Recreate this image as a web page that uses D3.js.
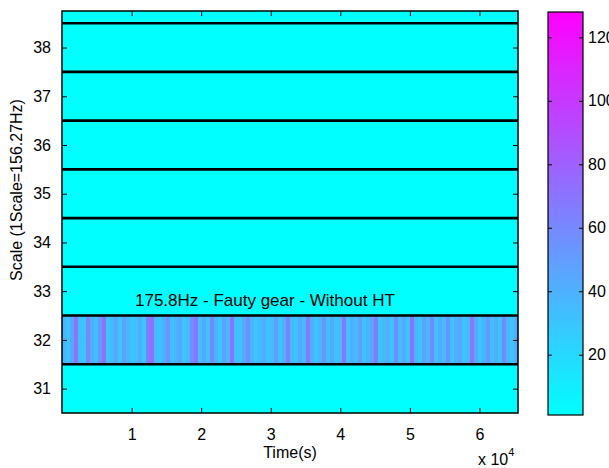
<!DOCTYPE html>
<html>
<head>
<meta charset="utf-8">
<script src="https://cdn.jsdelivr.net/npm/d3@7"></script>
<style>
  body { margin: 0; background: #fff; }
  text { font-family: "Liberation Sans", Arial, sans-serif; font-size: 16px; fill: #000; }
</style>
</head>
<body>
<svg></svg>
<script>
// scale rows shown on the y axis (row 39 is only partly visible at the top)
const scales = [31, 32, 33, 34, 35, 36, 37, 38, 39]
const quietLevel = 1 // every row except 32 sits at the bottom of the colour map

// row 32 coefficients, read column by column across the time axis
const row32 = [
  38, 30, 45, 70, 34, 28, 62, 40, 33, 52, 72, 30, 36, 44, 30, 48, 38, 30, 34, 42,
  28, 66, 72, 36, 30, 40, 55, 32, 38, 46, 30, 36, 58, 70, 32, 44, 30, 62, 38, 30,
  48, 36, 72, 34, 30, 44, 56, 38, 30, 36, 42, 30, 34, 50, 30, 40, 64, 36, 30, 46,
  33, 68, 40, 30, 38, 54, 32, 44, 30, 36, 70, 30, 42, 34, 50, 30, 38, 46, 66, 30,
  36, 40, 30, 58, 34, 44, 30, 72, 38, 30, 48, 36, 62, 30, 42, 34, 56, 30, 40, 46,
  30, 36, 68, 44, 30, 38, 52, 34, 40, 30, 60, 36, 30, 44
]
const nSamples = 65536

const xTicks = [1, 2, 3, 4, 5, 6]
const yTicks = [31, 32, 33, 34, 35, 36, 37, 38]
const cbTicks = [20, 40, 60, 80, 100, 120]
const cbDomain = [1, 128]

const svg = d3.select("svg")
	.attr("width", 609)
	.attr("height", 468)

const plot = { left: 62, right: 518, top: 11, bottom: 413 }
const bar = { left: 548, right: 583, top: 12, bottom: 415 }

const x = d3.scaleLinear()
	.domain([0, nSamples])
	.range([plot.left, plot.right])

const y = d3.scaleLinear()
	.domain([30.5, 38.75])
	.range([plot.bottom, plot.top])

// MATLAB "cool": cyan -> magenta
const colorScale = d3.scaleLinear()
	.domain(cbDomain)
	.range(["#00ffff", "#ff00ff"])
	.clamp(true)

svg.append("clipPath")
	.attr("id", "clip")
	.append("rect")
	.attr("x", plot.left)
	.attr("y", plot.top)
	.attr("width", plot.right - plot.left)
	.attr("height", plot.bottom - plot.top)

const cells = svg.append("g").attr("clip-path", "url(#clip)")

// flat rows
cells.selectAll("rect.row")
	.data(scales.filter(s => s !== 32))
	.enter()
	.append("rect")
	.attr("class", "row")
	.attr("x", x(0))
	.attr("width", x(nSamples) - x(0))
	.attr("y", d => y(d + 0.5))
	.attr("height", d => y(d - 0.5) - y(d + 0.5))
	.style("fill", colorScale(quietLevel))

// row 32 columns
const colW = nSamples / row32.length
cells.selectAll("rect.col")
	.data(row32)
	.enter()
	.append("rect")
	.attr("class", "col")
	.attr("x", (d, i) => x(i * colW))
	.attr("width", x(colW) - x(0) + 0.5)
	.attr("y", y(32.5))
	.attr("height", y(31.5) - y(32.5))
	.style("fill", d => colorScale(d))

// black separators between rows
cells.selectAll("line.sep")
	.data(scales.slice(0, -1).map(s => s + 0.5))
	.enter()
	.append("line")
	.attr("class", "sep")
	.attr("x1", plot.left)
	.attr("x2", plot.right)
	.attr("y1", d => y(d))
	.attr("y2", d => y(d))
	.attr("stroke", "#000")
	.attr("stroke-width", 2.6)

// axes (inward ticks, on all four sides)
const tk = 5
svg.append("g")
	.attr("transform", `translate(0, ${plot.bottom})`)
	.call(d3.axisBottom(x).tickValues(xTicks.map(v => v * 1e4)).tickSize(-tk).tickPadding(tk + 11).tickFormat(d => d / 1e4))
svg.append("g")
	.attr("transform", `translate(0, ${plot.top})`)
	.call(d3.axisTop(x).tickValues(xTicks.map(v => v * 1e4)).tickSize(-tk).tickFormat(""))
svg.append("g")
	.attr("transform", `translate(${plot.left}, 0)`)
	.call(d3.axisLeft(y).tickValues(yTicks).tickSize(-tk).tickPadding(tk + 6))
svg.append("g")
	.attr("transform", `translate(${plot.right}, 0)`)
	.call(d3.axisRight(y).tickValues(yTicks).tickSize(-tk).tickFormat(""))

svg.selectAll(".domain").remove()

svg.append("rect")
	.attr("x", plot.left)
	.attr("y", plot.top)
	.attr("width", plot.right - plot.left)
	.attr("height", plot.bottom - plot.top)
	.attr("fill", "none")
	.attr("stroke", "#000")
	.attr("stroke-width", 1.5)

svg.append("text")
	.attr("x", 135)
	.attr("y", 306)
	.style("font-size", "17px")
	.text("175.8Hz - Fauty gear - Without HT")

svg.append("text")
	.attr("x", (plot.left + plot.right) / 2)
	.attr("y", 458)
	.attr("text-anchor", "middle")
	.text("Time(s)")

const mult = svg.append("text")
	.attr("x", 478)
	.attr("y", 465)
mult.append("tspan").text("x 10")
mult.append("tspan").attr("dy", -9).style("font-size", "11px").text("4")

svg.append("text")
	.attr("transform", `translate(22, 190) rotate(-90)`)
	.attr("text-anchor", "middle")
	.text("Scale (1Scale=156.27Hz)")

// colorbar
const cb = d3.scaleLinear()
	.domain(cbDomain)
	.range([bar.bottom, bar.top])

const grad = svg.append("defs").append("linearGradient")
	.attr("id", "cool")
	.attr("x1", 0).attr("y1", 1).attr("x2", 0).attr("y2", 0)
grad.append("stop").attr("offset", 0).attr("stop-color", colorScale(cbDomain[0]))
grad.append("stop").attr("offset", 1).attr("stop-color", colorScale(cbDomain[1]))

svg.append("rect")
	.attr("x", bar.left)
	.attr("y", bar.top)
	.attr("width", bar.right - bar.left)
	.attr("height", bar.bottom - bar.top)
	.attr("fill", "url(#cool)")
	.attr("stroke", "#000")
	.attr("stroke-width", 1.2)

svg.append("g")
	.attr("transform", `translate(${bar.right}, 0)`)
	.call(d3.axisRight(cb).tickValues(cbTicks).tickSize(-4).tickPadding(5))
	.call(g => g.select(".domain").remove())
svg.append("g")
	.attr("transform", `translate(${bar.left}, 0)`)
	.call(d3.axisLeft(cb).tickValues(cbTicks).tickSize(-4).tickFormat(""))
	.call(g => g.select(".domain").remove())

svg.selectAll(".tick line").attr("stroke", "#000")
svg.selectAll(".tick text").style("font-size", "16px").style("font-family", "Liberation Sans, Arial, sans-serif").attr("fill", "#000")
</script>
</body>
</html>
